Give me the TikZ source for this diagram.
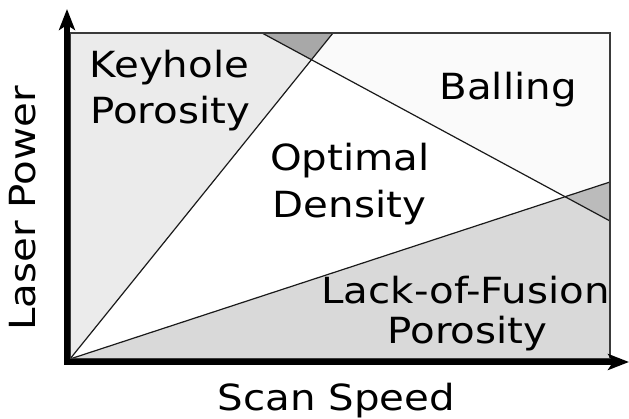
\documentclass[tikz,border=0pt]{standalone}
\usepackage{fontspec}
\setmainfont{DejaVu Sans}
\usetikzlibrary{arrows.meta}
\definecolor{keyfill}{HTML}{EBEBEB}
\definecolor{lofill}{HTML}{D9D9D9}
\definecolor{ballfill}{HTML}{FAFAFA}
\definecolor{topfill}{HTML}{A8A8A8}
\definecolor{rightfill}{HTML}{BBBBBB}
\definecolor{linecol}{HTML}{1A1A1A}
\definecolor{framecol}{HTML}{3A3A3A}
\newcommand{\widetext}[1]{\scalebox{1.12}[1]{#1}}
\begin{document}
\begin{tikzpicture}[x=1pt,y=-1pt,
  lbl/.style={inner sep=0pt, anchor=base, font=\fontsize{36}{42}\selectfont},
  bound/.style={draw=linecol, line width=1.2pt},
  plotframe/.style={draw=framecol, line width=1.3pt},
  axisline/.style={line width=6pt, -{Stealth[length=21pt,width=16pt,inset=5pt]}}]
\useasboundingbox (0,0) rectangle (629,419);
\coordinate (O) at (70,359);
\coordinate (TL) at (70,33);
\coordinate (TR) at (610,33);
\coordinate (BR) at (610,359);
\coordinate (K) at (333,33);
\coordinate (B1) at (262,33);
\coordinate (B2) at (610,221);
\coordinate (L) at (610,182);
\coordinate (P1) at (intersection of O--K and B1--B2);
\coordinate (P2) at (intersection of O--L and B1--B2);
% regions
\fill[ballfill] (B1) -- (TR) -- (B2) -- cycle;
\fill[keyfill] (O) -- (TL) -- (K) -- cycle;
\fill[lofill] (O) -- (BR) -- (L) -- cycle;
\fill[topfill] (B1) -- (K) -- (P1) -- cycle;
\fill[rightfill] (P2) -- (L) -- (B2) -- cycle;
% boundaries
\draw[bound] (O) -- (K);
\draw[bound] (B1) -- (B2);
\draw[bound] (O) -- (L);
\draw[plotframe] (TL) rectangle (BR);
% axes
\coordinate (ya) at (67,365);
\coordinate (yb) at (67,9);
\coordinate (xa) at (64,362);
\coordinate (xb) at (629,362);
\draw[axisline] (ya) -- (yb);
\draw[axisline] (xa) -- (xb);
% labels
\node[lbl] (key1) at (169.5,78) {\widetext{Keyhole}};
\node[lbl] (key2) at (170,124) {\widetext{Porosity}};
\node[lbl] (ball) at (508,99.5) {\widetext{Balling}};
\node[lbl] (opt1) at (350,170.5) {\widetext{Optimal}};
\node[lbl] (opt2) at (349.5,217.5) {\widetext{Density}};
\node[lbl] (lof1) at (465.5,303.5) {\widetext{Lack-of-Fusion}};
\node[lbl] (lof2) at (467.5,344) {\widetext{Porosity}};
\node[lbl] (xlab) at (336.5,410) {\widetext{Scan Speed}};
\node[lbl, rotate=90] (ylab) at (35,208.5) {\widetext{Laser Power}};
\end{tikzpicture}
\end{document}
